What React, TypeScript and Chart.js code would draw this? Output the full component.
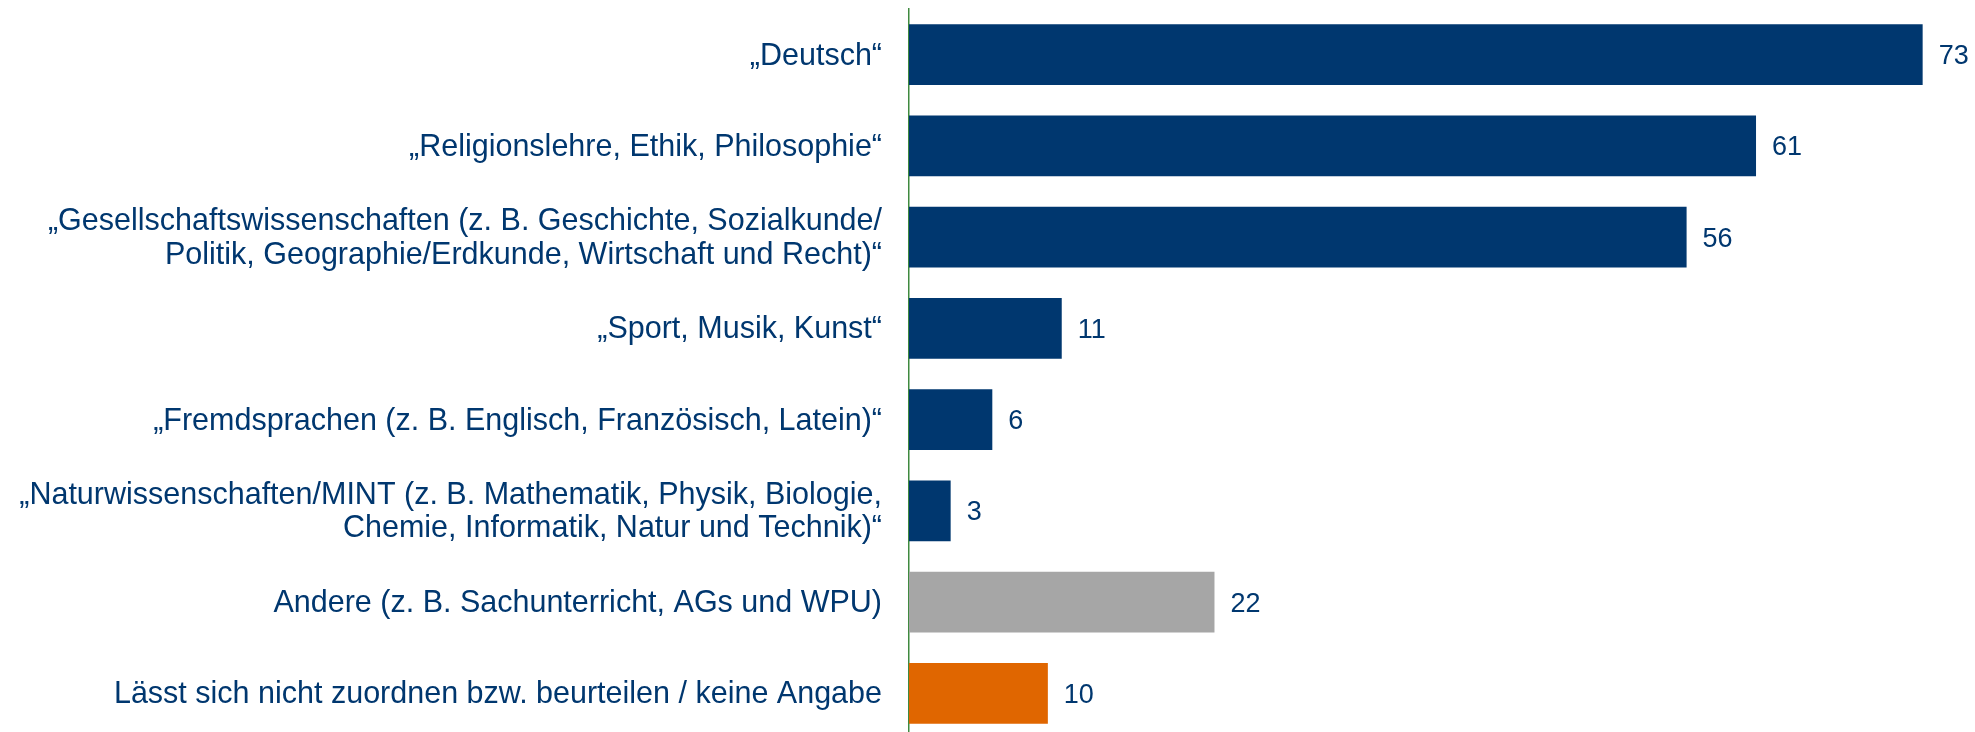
import React, { useEffect, useRef } from "react";
import { Chart, registerables } from "chart.js";

Chart.register(...registerables);

const categories: string[][] = [
  ["„Deutsch“"],
  ["„Religionslehre, Ethik, Philosophie“"],
  ["„Gesellschaftswissenschaften (z. B. Geschichte, Sozialkunde/", "Politik, Geographie/Erdkunde, Wirtschaft und Recht)“"],
  ["„Sport, Musik, Kunst“"],
  ["„Fremdsprachen (z. B. Englisch, Französisch, Latein)“"],
  ["„Naturwissenschaften/MINT (z. B. Mathematik, Physik, Biologie,", "Chemie, Informatik, Natur und Technik)“"],
  ["Andere (z. B. Sachunterricht, AGs und WPU)"],
  ["Lässt sich nicht zuordnen bzw. beurteilen / keine Angabe"],
];

const values: number[] = [73, 61, 56, 11, 6, 3, 22, 10];

const barColors: string[] = [
  "#00376F", "#00376F", "#00376F", "#00376F", "#00376F", "#00376F", "#A6A6A6", "#E06600",
];

const TEXT_COLOR = "#00376F";
const FONT = "'Liberation Sans', Arial, Helvetica, sans-serif";

const valueLabelPlugin = {
  id: "valueLabels",
  afterDatasetsDraw(chart: any) {
    const ctx = chart.ctx;
    const meta = chart.getDatasetMeta(0);
    ctx.save();
    ctx.font = `27px ${FONT}`;
    ctx.fillStyle = TEXT_COLOR;
    ctx.textAlign = "left";
    ctx.textBaseline = "middle";
    meta.data.forEach((bar: any, i: number) => {
      ctx.fillText(String(values[i]), bar.x + 16, bar.y + 2);
    });
    ctx.restore();
  },
};

export default function App() {
  const ref = useRef<HTMLCanvasElement>(null);
  useEffect(() => {
    if (!ref.current) return;
    const chart = new Chart(ref.current, {
      type: "bar",
      data: {
        labels: categories,
        datasets: [
          {
            data: values,
            backgroundColor: barColors,
            borderWidth: 0,
            barPercentage: 0.668,
            categoryPercentage: 1,
          },
        ],
      },
      options: {
        indexAxis: "y",
        responsive: false,
        animation: false,
        layout: { padding: { left: 0, right: 0, top: 9, bottom: 6 } },
        plugins: {
          legend: { display: false },
          tooltip: { enabled: false },
        },
        scales: {
          x: {
            display: false,
            min: 0,
            max: 76.77,
          },
          y: {
            afterFit: (s: any) => {
              s.width = 909;
              s.paddingTop = 0;
              s.paddingBottom = 0;
            },
            grid: { display: false, drawTicks: false },
            border: { display: true, color: "#3F8A3F", width: 1.5 },
            ticks: {
              padding: 27,
              labelOffset: 1.5,
              color: TEXT_COLOR,
              font: { family: FONT, size: 30.5, lineHeight: 1.09 },
              autoSkip: false,
            },
          },
        },
      },
      plugins: [valueLabelPlugin],
    });
    return () => chart.destroy();
  }, []);
  return (
    <div style={{ position: "fixed", left: 0, top: 0, width: 1975, height: 732, overflow: "hidden", background: "#fff" }}>
      <canvas ref={ref} width={1975} height={745} style={{ display: "block" }} />
    </div>
  );
}
